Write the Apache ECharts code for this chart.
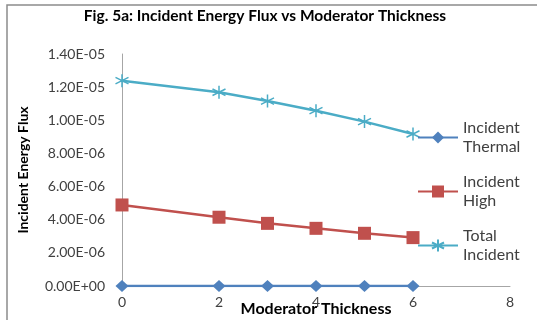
<!DOCTYPE html>
<html>
<head>
<meta charset="utf-8">
<script src="https://cdn.jsdelivr.net/npm/echarts@6/dist/echarts.min.js"></script>
<style>html,body{margin:0;padding:0;background:#fff;}#c{width:537px;height:320px;}</style>
</head>
<body>
<div id="c"></div>
<script>
const thickness = [0, 2, 3, 4, 5, 6];
const incidentThermal = [0, 0, 0, 0, 0, 0];
const incidentHigh = [4.89e-6, 4.15e-6, 3.78e-6, 3.48e-6, 3.18e-6, 2.92e-6];
const totalIncident = [1.239e-5, 1.169e-5, 1.116e-5, 1.058e-5, 0.992e-5, 0.917e-5];
const seriesNames = ['Incident Thermal', 'Incident High', 'Total Incident'];
const titleText = 'Fig. 5a: Incident Energy Flux vs Moderator Thickness';
const xName = 'Moderator Thickness';
const yName = 'Incident Energy Flux';

const FONT = 'Lato';
function fmtE(v) {
  const s = Number(v).toExponential(2);
  const parts = s.split('e');
  const n = parseInt(parts[1], 10);
  return parts[0] + 'E' + (n < 0 ? '-' : '+') + String(Math.abs(n)).padStart(2, '0');
}
function pairs(ys) { return thickness.map((x, i) => [x, ys[i]]); }

const starPath = 'path://M0,-10L0,10M-8.66,-5L8.66,5M-8.66,5L8.66,-5';
const colors = ['#4F81BD', '#C0504D', '#4BACC6'];

const chart = echarts.init(document.getElementById('c'), null, {renderer: 'canvas'});
chart.setOption({
  animation: false,
  textStyle: {fontFamily: FONT},
  title: {
    text: titleText, left: 265, textAlign: 'center', top: 8, padding: 0,
    textStyle: {fontFamily: FONT, fontSize: 15.5, fontWeight: 'bold', color: '#000'}
  },
  graphic: [{
    type: 'rect', shape: {x: 7, y: 5, width: 600, height: 400},
    style: {fill: 'none', stroke: '#8c8c8c', lineWidth: 1.5}, silent: true, z: -1
  }],
  legend: {
    orient: 'vertical', left: 412, top: 104,
    itemWidth: 40, itemHeight: 15, itemGap: -3,
    formatter: name => name.replace(' ', '\n'),
    textStyle: {fontFamily: FONT, fontSize: 16, lineHeight: 19, padding: [19, 0, 0, 0], color: '#404040'},
    data: seriesNames
  },
  grid: {left: 122, right: 27, top: 54, bottom: 34, containLabel: false, outerBoundsMode: 'none'},
  xAxis: {
    type: 'value', min: 0, max: 8, interval: 2,
    name: xName, nameLocation: 'middle', nameGap: 15, nameMoveOverlap: false,
    nameTextStyle: {fontFamily: FONT, fontSize: 16, fontWeight: 'bold', color: '#000'},
    axisLine: {show: true, lineStyle: {color: '#a6a6a6', width: 1}},
    axisTick: {show: false},
    splitLine: {show: false},
    axisLabel: {fontFamily: FONT, fontSize: 14, color: '#404040', margin: 9}
  },
  yAxis: {
    type: 'value', min: 0, max: 1.4e-5, interval: 2e-6,
    name: yName, nameLocation: 'middle', nameGap: 92, nameRotate: 90, nameMoveOverlap: false,
    nameTextStyle: {fontFamily: FONT, fontSize: 14, fontWeight: 'bold', color: '#000'},
    axisLine: {show: true, lineStyle: {color: '#a6a6a6', width: 1}},
    axisTick: {show: false},
    splitLine: {show: false},
    axisLabel: {fontFamily: FONT, fontSize: 14, color: '#404040', margin: 17, formatter: fmtE}
  },
  series: [
    {
      name: seriesNames[0], type: 'line', data: pairs(incidentThermal),
      symbol: 'diamond', symbolSize: [13, 12],
      lineStyle: {color: colors[0], width: 2.5}, itemStyle: {color: colors[0]}
    },
    {
      name: seriesNames[1], type: 'line', data: pairs(incidentHigh),
      symbol: 'rect', symbolSize: 13,
      lineStyle: {color: colors[1], width: 2.5}, itemStyle: {color: colors[1]}
    },
    {
      name: seriesNames[2], type: 'line', data: pairs(totalIncident),
      symbol: starPath, symbolSize: 13,
      lineStyle: {color: colors[2], width: 2.5},
      itemStyle: {color: colors[2], borderColor: colors[2], borderWidth: 1.5}
    }
  ]
});
</script>
</body>
</html>
